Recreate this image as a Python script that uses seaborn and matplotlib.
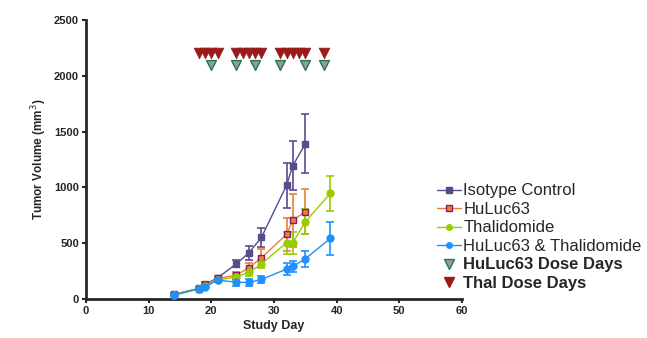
import numpy as np
import pandas as pd
import matplotlib
matplotlib.use("Agg")
import matplotlib.pyplot as plt
from matplotlib.lines import Line2D
import seaborn as sns

# ---------------------------------------------------------
# Daten
# ---------------------------------------------------------
days_a = [14, 18, 19, 21, 24, 26, 28, 32, 33, 35]
days_b = [14, 18, 19, 21, 24, 26, 28, 32, 33, 35, 39]

iso_mean = [42, 96, 132, 191, 316, 415, 553, 1019, 1195, 1392]
iso_err = [10, 15, 20, 20, 30, 65, 85, 200, 220, 266]

hu_mean = [40, 95, 125, 185, 215, 281, 370, 580, 708, 782]
hu_err = [10, 15, 18, 20, 30, 45, 80, 145, 237, 200]

thal_mean = [35, 90, 120, 170, 200, 239, 316, 505, 505, 693, 947]
thal_err = [8, 12, 15, 20, 25, 30, 35, 100, 100, 110, 157]

combo_mean = [35, 95, 110, 170, 152, 149, 176, 269, 293, 361, 544]
combo_err = [8, 12, 15, 20, 30, 30, 35, 55, 48, 70, 145]

huluc_dose_days = [20, 24, 27, 31, 35, 38]
thal_dose_days = [18, 19, 20, 21, 24, 25, 26, 27, 28, 31, 32, 33, 34, 35, 38]
huluc_dose_level = 2100
thal_dose_level = 2200

groups = [
    ("Isotype Control", days_a, iso_mean, iso_err, "#5a4a8c", "s", "#5a4a8c"),
    ("HuLuc63", days_a, hu_mean, hu_err, "#e8803a", "s", "#8b1a6a"),
    ("Thalidomide", days_b, thal_mean, thal_err, "#99cc00", "o", "#99cc00"),
    ("HuLuc63 & Thalidomide", days_b, combo_mean, combo_err, "#2090ff", "o", "#2090ff"),
]

rows = []
for name, d, m, e, *_ in groups:
    for x, y, s in zip(d, m, e):
        rows.append({"group": name, "day": x, "vol": y, "sem": s})
df = pd.DataFrame(rows)

# ---------------------------------------------------------
# Plot
# ---------------------------------------------------------
sns.set_style("ticks")
plt.rcParams["font.family"] = ["Liberation Sans", "DejaVu Sans"]

fig = plt.figure(figsize=(6.47, 3.38), dpi=100)
ax = fig.add_axes([0.133, 0.115, 0.581, 0.826])

for name, d, m, e, col, mk, edge in groups:
    sub = df[df["group"] == name]
    ax.errorbar(sub["day"], sub["vol"], yerr=sub["sem"], fmt="none",
                ecolor=col, elinewidth=1.2, capsize=3, capthick=1.2, zorder=2)
    sns.lineplot(data=sub, x="day", y="vol", ax=ax, color=col, marker=mk,
                 markersize=5, markerfacecolor=col, markeredgecolor=edge,
                 markeredgewidth=1, linewidth=1, zorder=3)

sns.scatterplot(x=huluc_dose_days, y=[huluc_dose_level] * len(huluc_dose_days),
                ax=ax, marker="v", s=50, color="#999999", edgecolor="#1f7a50",
                linewidth=1, zorder=4)
sns.scatterplot(x=thal_dose_days, y=[thal_dose_level] * len(thal_dose_days),
                ax=ax, marker="v", s=60, color="#9b1b1b", edgecolor="#9b1b1b",
                linewidth=0.5, zorder=4)

ax.set_xlim(0, 60)
ax.set_ylim(0, 2500)
ax.set_xticks(range(0, 61, 10))
ax.set_yticks(range(0, 2501, 500))
ax.set_xlabel("Study Day", fontsize=9, fontweight="bold", labelpad=3)
ax.set_ylabel("Tumor Volume (mm$^3$)", fontsize=8.5, fontweight="bold")
ax.tick_params(labelsize=8, width=1.5, length=3, direction="out", pad=2)
for lab in ax.get_xticklabels() + ax.get_yticklabels():
    lab.set_fontweight("bold")
for side in ["left", "bottom"]:
    ax.spines[side].set_linewidth(2)
sns.despine(ax=ax)

handles = []
for name, d, m, e, col, mk, edge in groups:
    handles.append(Line2D([], [], color=col, marker=mk, markersize=4,
                          markerfacecolor=col, markeredgecolor=edge, linewidth=1))
handles.append(Line2D([], [], linestyle="none", marker="v", markersize=7,
                      markerfacecolor="#999999", markeredgecolor="#1f7a50"))
handles.append(Line2D([], [], linestyle="none", marker="v", markersize=7,
                      markerfacecolor="#9b1b1b", markeredgecolor="#9b1b1b"))
labels = [g[0] for g in groups] + ["HuLuc63 Dose Days", "Thal Dose Days"]

leg = fig.legend(handles, labels, loc="upper left", bbox_to_anchor=(0.663, 0.482),
                 frameon=False, fontsize=12, handlelength=1.4, handletextpad=0.15,
                 labelspacing=0.21, borderpad=0)
for t in leg.get_texts()[4:]:
    t.set_fontweight("bold")

fig.savefig("out.png", dpi=100)
